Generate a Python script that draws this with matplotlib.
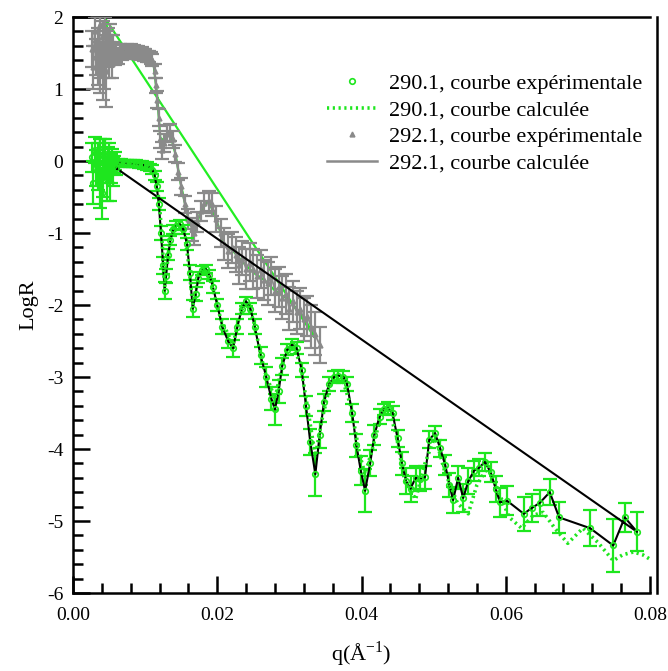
import matplotlib
matplotlib.use("Agg")
import matplotlib.pyplot as plt
from matplotlib.lines import Line2D
from matplotlib.ticker import MultipleLocator, FuncFormatter

plt.rcParams['font.family'] = ['Liberation Serif', 'DejaVu Serif']
plt.rcParams['mathtext.fontset'] = 'custom'
plt.rcParams['mathtext.rm'] = 'Liberation Serif'

GREEN = '#1ee61e'
GRAY = '#8a8a8a'

# ---------------- data: 290.1 experimental ----------------
q290 = [0.0026, 0.0028, 0.0030, 0.0032, 0.0034, 0.0035, 0.0037, 0.0038, 0.0040, 0.0041,
        0.0042, 0.0044, 0.0045, 0.0047, 0.0048, 0.0050, 0.0051, 0.0052, 0.0054, 0.0055,
        0.0057, 0.0058, 0.0060, 0.0063, 0.0067, 0.0071, 0.0075, 0.0079, 0.0083,
        0.0087, 0.0091, 0.0095, 0.0099, 0.0103, 0.0107, 0.0110, 0.0113, 0.0116, 0.0119,
        0.0122, 0.0125, 0.0127, 0.0129, 0.0132, 0.0135, 0.0139, 0.0143, 0.0148, 0.0153,
        0.0158, 0.0162, 0.0166, 0.0170, 0.0174, 0.0179, 0.0184, 0.0189, 0.0194, 0.0200,
        0.0207, 0.0215, 0.0222, 0.0228, 0.0234, 0.0240, 0.0246, 0.0252, 0.0260, 0.0268,
        0.0275, 0.0280, 0.0285, 0.0290, 0.0297, 0.0303, 0.0310, 0.0317, 0.0323, 0.0329,
        0.0336, 0.0342, 0.0348, 0.0355, 0.0362, 0.0368, 0.0375, 0.0380, 0.0387, 0.0393,
        0.0399, 0.0405, 0.0412, 0.0418, 0.0425, 0.0431, 0.0437, 0.0443, 0.0450, 0.0456,
        0.0462, 0.0468, 0.0475, 0.0481, 0.0488, 0.0494, 0.0502, 0.0509, 0.0516, 0.0522,
        0.0527, 0.0534, 0.0541, 0.0548, 0.0556, 0.0563, 0.0571, 0.0579, 0.0586, 0.0592,
        0.0602, 0.0625, 0.0636, 0.0647, 0.0661, 0.0674, 0.0717, 0.0749, 0.0765, 0.0782]
R290 = [0.05, -0.30, 0.15, -0.10, 0.05, -0.15, 0.15, -0.35, -0.45, 0.10,
        -0.20, 0.00, 0.10, -0.25, -0.05, 0.05, -0.30, -0.10, 0.02, -0.15,
        -0.05, 0.00, -0.10, -0.02, -0.02, -0.03, -0.03, -0.03, -0.04,
        -0.04, -0.05, -0.05, -0.06, -0.07, -0.09, -0.12, -0.20, -0.35, -0.60,
        -1.00, -1.45, -1.80, -1.60, -1.30, -1.10, -0.95, -0.90, -0.88, -0.95,
        -1.15, -1.55, -2.05, -1.85, -1.62, -1.52, -1.50, -1.58, -1.75, -2.00,
        -2.30, -2.50, -2.60, -2.30, -2.05, -1.95, -2.05, -2.30, -2.70, -3.00,
        -3.30, -3.45, -3.20, -2.85, -2.62, -2.55, -2.60, -2.90, -3.40, -3.90,
        -4.35, -3.80, -3.35, -3.10, -3.00, -2.98, -3.00, -3.10, -3.50, -3.95,
        -4.30, -4.58, -4.20, -3.80, -3.55, -3.45, -3.43, -3.50, -3.85, -4.20,
        -4.45, -4.55, -4.40, -4.42, -4.39, -3.87, -3.78, -3.99, -4.22, -4.50,
        -4.71, -4.40, -4.68, -4.45, -4.30, -4.26, -4.18, -4.32, -4.55, -4.74,
        -4.72, -4.90, -4.82, -4.75, -4.60, -4.95, -5.10, -5.34, -4.95, -5.15]
E290 = [0.20, 0.30, 0.18, 0.25, 0.20, 0.25, 0.15, 0.30, 0.35, 0.20,
        0.30, 0.25, 0.20, 0.30, 0.25, 0.20, 0.25, 0.20, 0.15, 0.20,
        0.12, 0.12, 0.10, 0.05, 0.05, 0.05, 0.05, 0.05, 0.05,
        0.05, 0.05, 0.05, 0.05, 0.05, 0.05, 0.06, 0.06, 0.06, 0.08,
        0.10, 0.12, 0.12, 0.10, 0.08, 0.06, 0.06, 0.06, 0.06, 0.06,
        0.08, 0.10, 0.12, 0.10, 0.08, 0.06, 0.06, 0.06, 0.08, 0.08,
        0.10, 0.10, 0.12, 0.10, 0.08, 0.06, 0.08, 0.10, 0.12, 0.14,
        0.16, 0.22, 0.16, 0.12, 0.08, 0.08, 0.08, 0.10, 0.14, 0.18,
        0.30, 0.18, 0.12, 0.10, 0.08, 0.08, 0.08, 0.10, 0.12, 0.16,
        0.20, 0.30, 0.18, 0.14, 0.10, 0.08, 0.08, 0.10, 0.12, 0.16,
        0.18, 0.18, 0.16, 0.16, 0.16, 0.12, 0.10, 0.12, 0.14, 0.16,
        0.18, 0.16, 0.20, 0.18, 0.14, 0.12, 0.12, 0.14, 0.18, 0.20,
        0.20, 0.24, 0.20, 0.18, 0.18, 0.22, 0.25, 0.37, 0.20, 0.27]

# ---------------- data: 290.1 calculated ----------------
q290c = [0.0060, 0.0080, 0.0100, 0.0110, 0.0115, 0.0120, 0.0124, 0.0127, 0.0130, 0.0135,
         0.0140, 0.0148, 0.0155, 0.0160, 0.0166, 0.0170, 0.0176, 0.0183, 0.0190, 0.0205,
         0.0222, 0.0232, 0.0240, 0.0250, 0.0265, 0.0280, 0.0292, 0.0303, 0.0315, 0.0328,
         0.0336, 0.0345, 0.0358, 0.0372, 0.0385, 0.0398, 0.0405, 0.0415, 0.0428, 0.0437,
         0.0448, 0.0460, 0.0475, 0.0488, 0.0502, 0.0515, 0.0533, 0.0548, 0.0560, 0.0576,
         0.0590, 0.0605, 0.0622, 0.0638, 0.0652, 0.0668, 0.0686, 0.0707, 0.0728, 0.0749,
         0.0762, 0.0777, 0.0790, 0.0800]
R290c = [-0.02, -0.03, -0.06, -0.12, -0.25, -0.60, -1.20, -1.75, -1.50, -1.05,
         -0.90, -0.88, -1.05, -1.40, -2.00, -1.80, -1.55, -1.50, -1.65, -2.20,
         -2.55, -2.10, -1.97, -2.20, -2.90, -3.30, -2.75, -2.55, -2.80, -3.60,
         -4.10, -3.60, -3.05, -2.98, -3.40, -4.10, -4.35, -4.00, -3.50, -3.42,
         -3.80, -4.45, -4.70, -4.20, -3.82, -4.30, -4.75, -4.90, -4.50, -4.24,
         -4.60, -4.95, -5.10, -4.92, -4.88, -5.10, -5.31, -5.10, -5.30, -5.55,
         -5.47, -5.43, -5.47, -5.53]

# ---------------- data: 292.1 experimental ----------------
q292 = [0.0026, 0.0028, 0.0030, 0.0032, 0.0034, 0.0035, 0.0037, 0.0038, 0.0039, 0.0041,
        0.0042, 0.0043, 0.0045, 0.0046, 0.0047, 0.0048, 0.0050, 0.0051, 0.0052, 0.0054,
        0.0055, 0.0056, 0.0058, 0.0060, 0.0062, 0.0065, 0.0068, 0.0070, 0.0073, 0.0075,
        0.0078, 0.0080, 0.0083, 0.0085, 0.0088, 0.0090, 0.0093, 0.0095, 0.0098, 0.0100,
        0.0103, 0.0105, 0.0108, 0.0110, 0.0113, 0.0115, 0.0117, 0.0119,
        0.0121, 0.0123, 0.0126, 0.0130, 0.0134, 0.0138, 0.0142, 0.0146, 0.0150, 0.0155,
        0.0160, 0.0165, 0.0168, 0.0172, 0.0177, 0.0182, 0.0188, 0.0193, 0.0198, 0.0205,
        0.0210, 0.0215, 0.0220, 0.0226, 0.0230, 0.0235, 0.0240, 0.0245, 0.0250, 0.0255,
        0.0260, 0.0265, 0.0270, 0.0275, 0.0280, 0.0285, 0.0290, 0.0295, 0.0300, 0.0305,
        0.0310, 0.0315, 0.0320, 0.0325, 0.0330, 0.0335, 0.0342]
R292 = [1.55, 1.30, 1.80, 1.45, 1.65, 1.35, 1.90, 1.25, 1.40, 1.75,
        1.20, 1.30, 1.85, 1.25, 1.55, 1.60, 1.40, 1.70, 1.55, 1.35,
        1.50, 1.60, 1.45, 1.50, 1.45, 1.52, 1.48, 1.53, 1.50, 1.55,
        1.52, 1.55, 1.50, 1.53, 1.52, 1.52, 1.48, 1.50, 1.47, 1.48,
        1.45, 1.45, 1.43, 1.40, 1.25, 1.05, 0.85, 0.60,
        0.30, 0.15, 0.25, 0.38, 0.40, 0.30, 0.10, -0.15, -0.35, -0.60,
        -0.80, -0.95, -1.00, -0.85, -0.70, -0.58, -0.55, -0.60, -0.80, -1.00,
        -1.15, -1.25, -1.20, -1.30, -1.45, -1.35, -1.50, -1.40, -1.50, -1.60,
        -1.50, -1.65, -1.70, -1.60, -1.80, -1.75, -1.90, -1.85, -2.05, -1.95,
        -2.10, -2.05, -2.20, -2.15, -2.30, -2.40, -2.55]
E292 = [0.25, 0.30, 0.20, 0.25, 0.20, 0.30, 0.10, 0.30, 0.25, 0.20,
        0.35, 0.30, 0.15, 0.50, 0.25, 0.25, 0.25, 0.20, 0.20, 0.20,
        0.15, 0.15, 0.12, 0.12, 0.10, 0.10, 0.08, 0.08, 0.08, 0.08,
        0.08, 0.08, 0.08, 0.08, 0.08, 0.08, 0.08, 0.08, 0.08, 0.08,
        0.08, 0.08, 0.08, 0.08, 0.10, 0.10, 0.12, 0.12,
        0.12, 0.12, 0.12, 0.12, 0.12, 0.12, 0.12, 0.12, 0.12, 0.12,
        0.14, 0.16, 0.16, 0.14, 0.14, 0.14, 0.14, 0.16, 0.18, 0.20,
        0.22, 0.24, 0.22, 0.24, 0.26, 0.24, 0.28, 0.26, 0.28, 0.30,
        0.26, 0.28, 0.30, 0.26, 0.30, 0.28, 0.30, 0.28, 0.30, 0.28,
        0.30, 0.28, 0.30, 0.28, 0.30, 0.30, 0.25]

# ---------------- data: 292.1 calculated ----------------
q292c = [0.0044, 0.0055, 0.0070, 0.0090, 0.0105, 0.0112, 0.0117, 0.0121, 0.0127, 0.0134,
         0.0142, 0.0150, 0.0160, 0.0168, 0.0177, 0.0188, 0.0198, 0.0210, 0.0222, 0.0235,
         0.0250, 0.0265, 0.0280, 0.0295, 0.0310, 0.0322, 0.0335]
R292c = [1.99, 1.55, 1.53, 1.51, 1.46, 1.32, 0.88, 0.32, 0.28, 0.40,
         0.10, -0.35, -0.80, -1.00, -0.70, -0.55, -0.80, -1.15, -1.25, -1.40,
         -1.55, -1.65, -1.80, -1.90, -2.05, -2.20, -2.45]

xticks = [0.00, 0.02, 0.04, 0.06, 0.08]
xticklabels = ['0.00', '0.02', '0.04', '0.06', '0.08']
legend_labels = ['290.1, courbe expérimentale', '290.1, courbe calculée',
                 '292.1, courbe expérimentale', '292.1, courbe calculée']

# ---------------- figure ----------------
W, H = 668, 671
fig = plt.figure(figsize=(W / 100, H / 100), dpi=100)
ax = fig.add_axes([73 / W, 1 - 593 / H, (650 - 73) / W, (593 - 17) / H])

# 292.1 calculated (green, closed path)
ax.plot(q292c + [q292c[0]], R292c + [R292c[0]], color='#22ee22', lw=1.6, zorder=2)
# 292.1 experimental
ax.errorbar(q292, R292, yerr=E292, fmt='-', color=GRAY, ecolor=GRAY, lw=1.3,
            elinewidth=1.6, capsize=4.8, capthick=1.6, zorder=3)
ax.plot(q292, R292, ls='none', marker='^', ms=3.5, color=GRAY, zorder=3)

# 290.1 experimental (error bars + black connecting closed line)
ax.errorbar(q290, R290, yerr=E290, fmt='none', ecolor=GREEN,
            elinewidth=1.6, capsize=4.8, capthick=1.6, zorder=4)
i0 = q290.index(0.0060)
blk_q = q290[i0:] + [q290[i0]]
blk_R = R290[i0:] + [R290[i0]]
ax.plot(blk_q, blk_R, color='black', lw=1.5, zorder=5)
ax.plot(q290, R290, ls='none', marker='o', ms=4, mfc='none', mec=GREEN, mew=1.2, zorder=6)
# 290.1 calculated
ax.plot(q290c, R290c, color=GREEN, lw=2.6, ls=(0, (0.6, 1.0)), zorder=6)

ax.set_xlim(0, 0.08)
ax.set_ylim(-6, 2)
ax.set_xticks(xticks)
ax.set_xticklabels(xticklabels)
ax.xaxis.set_minor_locator(MultipleLocator(0.004))
ax.yaxis.set_major_locator(MultipleLocator(1))
ax.yaxis.set_minor_locator(MultipleLocator(0.2))
ax.yaxis.set_major_formatter(FuncFormatter(lambda v, p: '%d' % round(v)))
ax.tick_params(which='major', direction='in', length=12, width=1.8, labelsize=14,
               top=False, right=False, pad=7)
ax.tick_params(which='minor', direction='in', length=7, width=1.8, top=False, right=False)
ax.tick_params(axis='x', which='major', pad=10)
for s in ['left', 'bottom', 'top', 'right']:
    ax.spines[s].set_linewidth(1.8)
ax.spines['right'].set_position(('outward', 5))

ax.set_xlabel('q(Å$^{\\mathregular{-1}}$)', fontsize=16, labelpad=11)
ax.set_ylabel('LogR', fontsize=16, labelpad=6)

handles = [
    Line2D([], [], ls='none', marker='o', ms=4, mfc='none', mec=GREEN, mew=1.2),
    Line2D([], [], color=GREEN, lw=2.6, ls=(0, (0.6, 1.0))),
    Line2D([], [], ls='none', marker='^', ms=3.5, color=GRAY),
    Line2D([], [], color=GRAY, lw=1.8),
]
fig.legend(handles, legend_labels, loc='upper left',
           bbox_to_anchor=(327 / W, 1 - 73 / H), frameon=False,
           prop={'family': 'Liberation Serif', 'size': 16},
           handlelength=2.25, handletextpad=0.55, labelspacing=0.28,
           borderpad=0, borderaxespad=0)

fig.savefig('out.png', dpi=100)
